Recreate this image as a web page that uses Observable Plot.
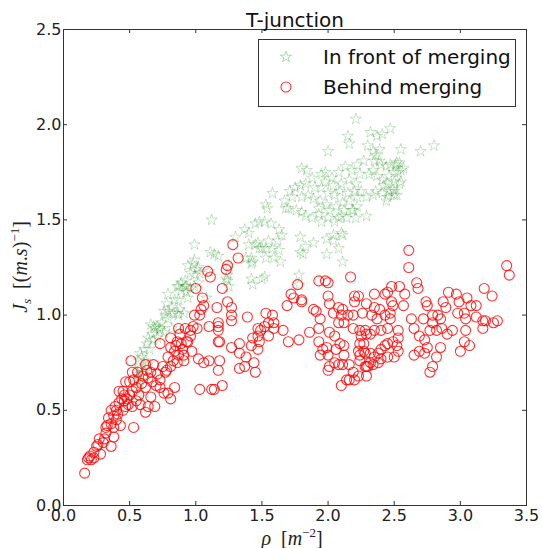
<!DOCTYPE html>
<html><head><meta charset="utf-8">
<script src="https://cdn.jsdelivr.net/npm/d3@7"></script>
<script src="https://cdn.jsdelivr.net/npm/@observablehq/plot@0.6"></script>
<style>body{margin:0;background:#fff}</style>
</head><body><div id="chart"></div>
<script>
const title = "T-junction";
const seriesNames = ["In front of merging", "Behind merging"];
const xTicks = [0, 0.5, 1, 1.5, 2, 2.5, 3, 3.5];
const yTicks = [0, 0.5, 1, 1.5, 2, 2.5];

// [rho, Js]
const inFrontOfMerging = [
[2.21,2.03],[2.32,1.96],[2.37,1.94],[2.41,1.95],[2.47,1.98],[2.15,1.94],[2.16,1.90],[2.00,1.86],[2.30,1.89],[2.34,1.86],[2.36,1.84],[2.39,1.87],[2.55,1.87],[2.35,1.81],[2.34,1.76],[2.40,1.79],[2.44,1.78],[2.47,1.79],[2.52,1.80],[2.55,1.76],[2.50,1.75],[2.46,1.73],[2.41,1.71],[2.37,1.73],[2.31,1.74],[2.22,1.79],[2.24,1.74],[2.18,1.76],[2.13,1.78],[2.08,1.75],[2.03,1.72],[1.98,1.75],[1.84,1.76],[1.88,1.72],[1.98,1.70],[2.04,1.68],[2.10,1.69],[2.16,1.71],[2.21,1.69],[2.20,1.65],[2.15,1.64],[2.09,1.65],[2.05,1.63],[2.00,1.64],[1.95,1.67],[1.90,1.67],[1.83,1.69],[1.79,1.68],[1.75,1.67],[1.71,1.65],[1.73,1.62],[1.80,1.62],[1.85,1.63],[1.89,1.61],[1.94,1.60],[1.93,1.56],[1.99,1.58],[2.01,1.55],[2.06,1.57],[2.11,1.59],[2.16,1.60],[2.22,1.62],[2.25,1.65],[2.29,1.62],[2.34,1.63],[2.36,1.65],[2.41,1.64],[2.46,1.65],[2.49,1.66],[2.54,1.69],[2.50,1.70],[2.42,1.68],[2.44,1.60],[2.22,1.57],[2.18,1.55],[2.14,1.51],[2.08,1.51],[2.05,1.49],[2.00,1.51],[1.95,1.49],[1.93,1.53],[1.88,1.51],[1.83,1.52],[1.80,1.54],[1.76,1.55],[1.70,1.56],[1.68,1.56],[1.67,1.60],[1.58,1.64],[1.53,1.58],[1.54,1.56],[1.52,1.49],[1.57,1.48],[1.63,1.45],[1.65,1.42],[1.62,1.39],[1.55,1.39],[1.53,1.35],[1.58,1.35],[1.63,1.34],[1.64,1.28],[1.59,1.30],[1.53,1.30],[1.79,1.41],[1.83,1.36],[1.89,1.38],[1.79,1.33],[1.81,1.32],[1.99,1.40],[2.04,1.42],[2.10,1.43],[2.11,1.42],[2.08,1.35],[1.99,1.32],[2.11,1.28],[1.78,1.21],[1.52,1.20],[1.80,1.77],[1.95,1.74],[2.27,1.81],[2.39,1.81],[2.45,1.69],
[2.70,1.86],[2.80,1.89],[2.57,1.77],[2.54,1.80],[2.51,1.79],[2.55,1.70],[2.50,1.65],[2.45,1.62],[2.50,1.63],[2.29,1.52],[2.21,1.51],[2.19,1.55],[2.12,1.55],[2.10,1.52],[2.04,1.39],[1.78,1.16],[2.88,2.12],[2.52,1.63],[2.53,1.75],
[1.12,1.50],[1.40,1.43],[1.37,1.45],[1.30,1.41],[1.40,1.37],[1.45,1.37],[1.48,1.35],[1.42,1.30],[1.43,1.28],[1.38,1.30],[1.25,1.26],[1.24,1.18],[1.17,1.31],[1.14,1.32],[1.11,1.33],[0.99,1.37],[0.98,1.27],[0.94,1.26],[1.01,1.24],[0.96,1.22],[0.89,1.17],[0.92,1.18],[0.87,1.15],[0.79,1.11],[0.93,1.12],[1.25,1.15],[1.42,1.19],[1.43,1.16],[1.48,1.49],
[1.45,1.48],[1.47,1.38],[1.50,1.35],[1.42,1.27],[1.50,1.19],[0.99,1.29],[1.02,1.25],[1.03,1.22],[0.99,1.21],[1.10,1.23],[1.02,1.17],[0.99,1.15],[0.96,1.14],[0.92,1.15],[0.86,1.15],[0.89,1.13],[0.94,1.09],[0.84,1.08],[0.87,1.08],[0.78,1.06],[0.82,1.04],[0.79,1.02],[0.83,1.01],[0.76,1.02],[0.77,1.00],[0.86,1.01],[0.88,1.03],[0.79,0.98],[0.74,0.96],[0.71,0.94],[0.68,0.94],[0.73,0.92],[0.76,0.91],[0.71,0.88],[0.82,0.93],[1.08,1.09],[1.23,1.19],[1.24,1.21],
[0.64,0.88],[0.63,0.85],[0.61,0.82],[0.58,0.80],[0.59,0.78],[0.62,0.76],[0.64,0.74],[0.58,0.72],[0.61,0.70],[0.57,0.68],[0.55,0.62],[0.57,0.57],[0.67,0.90],[0.68,0.87],[0.65,0.82],[0.57,0.76],[0.56,0.69],[0.58,0.66],[0.58,0.64],[0.69,0.93],[0.73,0.93],[0.66,0.95],[0.91,1.01],[0.87,1.00],[0.93,1.15]
];

const behindMerging = [
[0.16,0.17],[0.19,0.25],[0.18,0.24],[0.21,0.24],[0.23,0.25],[0.20,0.26],[0.23,0.28],[0.25,0.31],[0.28,0.27],[0.26,0.32],[0.30,0.33],[0.31,0.35],[0.36,0.31],[0.38,0.36],[0.32,0.38],[0.33,0.42],[0.32,0.41],[0.36,0.43],[0.38,0.41],[0.40,0.45],[0.43,0.42],[0.38,0.47],[0.41,0.48],[0.36,0.50],[0.39,0.52],[0.45,0.50],[0.42,0.54],[0.46,0.55],[0.48,0.56],[0.47,0.52],[0.46,0.58],[0.45,0.60],[0.42,0.60],[0.47,0.65],[0.52,0.60],[0.53,0.41],[0.52,0.52],[0.55,0.55],[0.53,0.66],[0.52,0.70],[0.51,0.76],[0.58,0.53],[0.62,0.49],[0.64,0.52],[0.66,0.57],[0.69,0.52],[0.62,0.62],[0.59,0.64],[0.64,0.67],[0.66,0.70],[0.62,0.74],[0.63,0.71],[0.71,0.69],[0.67,0.65],[0.73,0.62],[0.73,0.66],[0.76,0.59],[0.77,0.70],[0.81,0.56],[0.84,0.62],[0.78,0.71],[0.81,0.73],[0.79,0.78],[0.83,0.76],[0.86,0.75],[0.84,0.81],[0.81,0.83],[0.87,0.79],[0.91,0.76],[0.91,0.79],[0.89,0.85],[0.86,0.86],[0.93,0.86],[0.94,0.86],[0.97,0.81],[0.96,0.89],[0.88,0.90],[0.92,0.93],[0.87,0.93],[0.96,0.92],[0.98,0.94],[1.01,0.93],[1.02,0.77],[1.06,0.75],[1.10,0.76],[0.73,0.85],[0.81,0.88],[1.03,1.00],[0.99,1.00],[1.04,1.03],[1.06,1.05],[1.10,0.94],[1.03,0.61],[1.12,0.61],[0.79,0.59],[0.57,0.58],[0.50,0.65],
[0.44,0.56],[0.50,0.58],[0.55,0.62],[0.60,0.68],[0.68,0.74],[0.70,0.63],[0.75,0.73],[0.85,0.84],[0.90,0.82],[0.56,0.70],[0.40,0.50],[0.34,0.46],[0.27,0.35],[0.49,0.53],
[1.28,1.37],[1.32,1.30],[1.23,1.24],[1.24,1.26],[1.09,1.23],[1.11,1.20],[1.00,1.14],[1.20,1.14],[1.05,1.09],[1.16,1.04],[1.47,0.93],
[1.24,1.07],[1.27,1.04],[1.27,1.00],[1.27,0.97],[1.17,0.96],[1.17,0.94],[1.17,0.92],[1.17,0.86],[1.18,0.86],[1.27,0.83],[1.33,0.85],[1.33,0.80],[1.38,0.78],[1.37,0.73],[1.33,0.72],[1.18,0.76],[1.17,0.71],[1.20,0.63],[1.14,0.61],[1.44,0.75],[1.45,0.70],[1.39,0.99],[1.53,1.01],[1.58,1.00],[1.59,0.96],[1.59,0.93],[1.55,0.96],[1.52,0.94],[1.49,0.92],[1.47,0.89],[1.43,0.88],[1.42,0.84],[1.47,0.82],[1.48,0.86],[1.55,0.89],[1.66,0.92],[1.70,0.86],[1.78,0.87],[1.69,1.05],[1.80,1.07],[1.86,0.91],[1.89,1.03],[1.91,1.02],[1.94,0.98],[1.93,0.93],[1.93,0.86],[1.94,0.79],[1.96,0.82],[1.99,0.83],[2.00,0.79],[2.01,0.91],[2.05,0.89],[2.01,1.06],[2.04,1.01],[2.08,1.04],[2.11,1.03],[2.10,1.00],[2.08,0.96],[2.12,0.96],[2.15,1.00],[2.19,1.00],[2.20,1.07],[2.19,0.93],[2.24,0.92],[2.25,0.89],[2.29,0.90],[2.26,1.01],[2.09,0.85],[2.12,0.84],[2.06,0.82],[2.12,0.79],[2.05,0.75],[2.08,0.74],[2.11,0.74],[2.16,0.74],[2.01,0.73],[2.00,0.71],[2.19,0.70],[2.16,0.66],[2.14,0.66],[2.10,0.63],[2.20,0.66],[2.24,0.79],[2.24,0.85],[2.24,0.76],[2.27,0.81],[2.29,0.73],[2.29,0.68],
[1.77,1.16],[1.72,1.11],[1.74,1.09],[1.80,1.08],[1.93,1.18],[1.98,1.18],[2.00,1.17],[2.17,1.20],[2.00,1.10],[2.20,1.10],[2.23,1.10],[2.35,1.11],[2.43,1.11],[2.45,1.12],[2.48,1.15],[2.54,1.15],[2.58,1.11],[2.61,1.34],[2.61,1.25],[2.67,1.17],[2.68,1.14],[2.48,1.07],[2.57,1.05],[2.29,1.06],[2.35,1.04],
[2.33,1.00],[2.37,0.98],[2.39,1.03],[2.43,1.00],[2.47,1.01],[2.49,1.05],[2.47,0.98],[2.45,0.93],[2.40,0.92],[2.35,0.92],[2.32,0.90],[2.28,0.92],[2.27,0.85],[2.23,0.81],[2.28,0.80],[2.32,0.80],[2.32,0.75],[2.35,0.78],[2.38,0.80],[2.40,0.82],[2.43,0.84],[2.45,0.85],[2.49,0.86],[2.53,0.92],[2.53,0.88],[2.52,0.84],[2.53,0.81],[2.50,0.78],[2.45,0.78],[2.40,0.77],[2.38,0.75],[2.34,0.74],[2.30,0.73],[2.28,0.73],[2.23,0.68],[2.63,0.98],[2.65,0.93],[2.72,0.98],[2.74,1.07],[2.75,1.05],[2.79,1.00],[2.79,0.96],[2.82,0.92],[2.77,0.92],[2.73,0.87],[2.69,0.89],[2.69,0.81],[2.65,0.79],[2.73,0.80],[2.75,0.83],[2.82,0.78],[2.79,0.73],[2.77,0.70],[2.83,1.00],[2.85,0.98],[2.87,1.07],[2.89,1.04],[2.86,0.93],[2.85,0.83],[2.91,1.12],[2.97,1.11],[2.99,1.07],[2.98,1.01],[3.03,1.01],[3.05,1.09],[3.08,1.05],[3.12,1.05],[3.04,0.98],[3.04,0.92],[3.00,0.81],[3.03,0.86],[3.07,0.84],[2.90,0.90],[2.94,0.92],[3.12,0.99],[3.17,0.97],[3.17,0.93],[3.19,0.97],[3.25,0.96],[3.28,0.97],[3.18,1.14],[3.24,1.10],[3.35,1.26],[3.37,1.21]
];

const W = 542, H = 548, mL = 63, mR = 16, mT = 29, mB = 43;
const pw = W - mL - mR, ph = H - mT - mB;
const front = inFrontOfMerging.map(([rho, js]) => ({rho, js}));
const behind = behindMerging.map(([rho, js]) => ({rho, js}));
const starR = 3.5, circR = 5;
const starColor = "#008000", starOpacity = 0.22;
const circColor = "#ff0000", circOpacity = 0.8;
const ink = "#222";

const chart = Plot.plot({
  width: W, height: H,
  marginLeft: mL, marginRight: mR, marginTop: mT, marginBottom: mB,
  style: {fontFamily: "'DejaVu Sans', sans-serif", fontSize: "16px", color: ink, background: "#fff", overflow: "visible"},
  x: {domain: [0, 3.5], ticks: xTicks, tickSize: 0, tickPadding: 4, tickFormat: d3.format(".1f"), label: null},
  y: {domain: [0, 2.5], ticks: yTicks, tickSize: 0, tickPadding: 2, tickFormat: d3.format(".1f"), label: null},
  marks: [
    Plot.dot(front, {x: "rho", y: "js", symbol: "star", r: starR, fill: "none", stroke: starColor, strokeOpacity: starOpacity, strokeWidth: 1}),
    Plot.dot(behind, {x: "rho", y: "js", r: circR, fill: "none", stroke: circColor, strokeOpacity: circOpacity, strokeWidth: 1.1}),
    Plot.frame({stroke: "#333", strokeWidth: 1}),
    Plot.tickX(xTicks, {x: d => d, insetTop: ph - 4, stroke: "#333"}),
    Plot.tickX(xTicks, {x: d => d, insetBottom: ph - 4, stroke: "#333"}),
    Plot.tickY(yTicks, {y: d => d, insetRight: pw - 4, stroke: "#333"}),
    Plot.tickY(yTicks, {y: d => d, insetLeft: pw - 4, stroke: "#333"}),
    Plot.text([title], {text: d => d, frameAnchor: "top", lineAnchor: "bottom", dy: -3, fontSize: 20, fill: "#111"})
  ]
});
document.getElementById("chart").appendChild(chart);

const svg = d3.select(chart);
// legend
const lg = svg.append("g").attr("text-anchor", "start");
lg.append("rect").attr("x", 258.5).attr("y", 39.5).attr("width", 257).attr("height", 67)
  .attr("fill", "#fff").attr("stroke", "#333").attr("stroke-width", 1);
lg.append("path").attr("transform", "translate(286,57)")
  .attr("d", d3.symbol(d3.symbolStar, Math.PI * starR * starR)())
  .attr("fill", "none").attr("stroke", starColor).attr("stroke-opacity", 0.3);
lg.append("circle").attr("cx", 286).attr("cy", 87).attr("r", circR)
  .attr("fill", "none").attr("stroke", circColor).attr("stroke-opacity", circOpacity).attr("stroke-width", 1.1);
seriesNames.forEach((name, i) => {
  lg.append("text").attr("x", 323).attr("y", 64 + i * 30).attr("text-anchor", "start").text(name)
    .attr("fill", "#111").style("font-family", "'DejaVu Sans', sans-serif").style("font-size", "20px");
});

// x label: ρ [m^-2]
const serif = "'Liberation Serif', 'DejaVu Serif', serif";
const xl = svg.append("text").attr("x", 292).attr("y", 545).attr("text-anchor", "middle")
  .attr("fill", ink).style("font-family", serif).style("font-size", "20px");
xl.append("tspan").style("font-style", "italic").text("ρ");
xl.append("tspan").text("\u2002[");
xl.append("tspan").style("font-style", "italic").text("m");
xl.append("tspan").attr("dy", -8).style("font-size", "13px").text("−2");
xl.append("tspan").attr("dy", 8).text("]");

// y label: J_s [(m.s)^-1]
const yl = svg.append("text").attr("transform", "translate(27,267) rotate(-90)").attr("text-anchor", "middle")
  .attr("fill", ink).style("font-family", serif).style("font-size", "20px");
yl.append("tspan").style("font-style", "italic").text("J");
yl.append("tspan").attr("dy", 4).style("font-size", "13px").style("font-style", "italic").text("s");
yl.append("tspan").attr("dy", -4).text("\u2002[(");
yl.append("tspan").style("font-style", "italic").text("m");
yl.append("tspan").text(".");
yl.append("tspan").style("font-style", "italic").text("s");
yl.append("tspan").text(")");
yl.append("tspan").attr("dy", -8).style("font-size", "13px").text("−1");
yl.append("tspan").attr("dy", 8).text("]");
</script>
</body></html>
